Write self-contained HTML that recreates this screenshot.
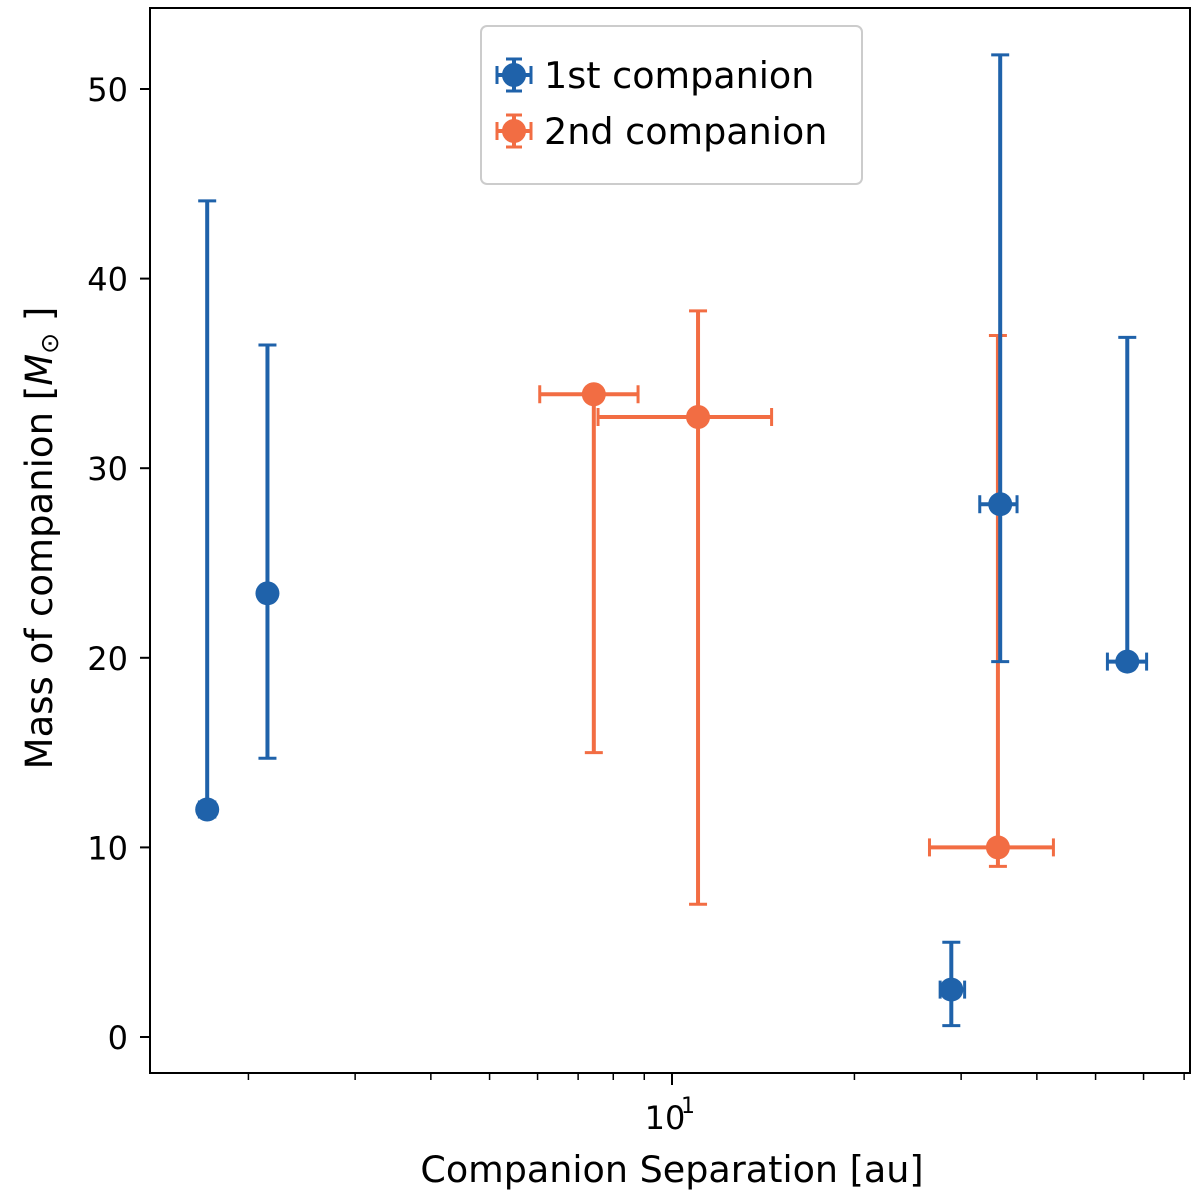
<!DOCTYPE html>
<html><head><meta charset="utf-8"><style>
body{margin:0;background:#fff}
svg text{font-family:"DejaVu Sans","Liberation Sans",sans-serif;fill:#000}
</style></head><body>
<svg id="chart" width="1200" height="1197" viewBox="0 0 1200 1197" xmlns="http://www.w3.org/2000/svg"></svg>
<script>
const blueX=[1.71,2.15,28.9,34.8,56.4];
const blueY=[12.0,23.4,2.5,28.1,19.8];
const blueYLo=[11.9,14.7,0.6,19.8,19.8];
const blueYHi=[44.1,36.5,5.0,51.8,36.9];
const blueXLo=[1.66,2.15,27.7,32.2,52.3];
const blueXHi=[1.76,2.15,30.4,37.1,60.7];
const orangeX=[7.43,11.04,34.5];
const orangeY=[33.9,32.7,10.0];
const orangeYLo=[15.0,7.0,9.0];
const orangeYHi=[33.9,38.3,37.0];
const orangeXLo=[6.05,7.55,26.6];
const orangeXHi=[8.79,14.6,42.6];
const yTicks=[0,10,20,30,40,50];
const xMinor=[2,3,4,5,6,7,8,9,20,30,40,50,60,70];

const L=150,R=1190,T=8,B=1073;
const xs=v=>672+606*(Math.log10(v)-1);
const ys=v=>1037-v*18.96;
const svg=document.getElementById('chart');
const NS='http://www.w3.org/2000/svg';
function mk(tag,attrs,parent){const e=document.createElementNS(NS,tag);for(const k in attrs)e.setAttribute(k,attrs[k]);(parent||svg).appendChild(e);return e;}

yTicks.forEach(v=>{
  const g=mk('g',{});
  
  
  mk('line',{x1:L-10,x2:L,y1:ys(v),y2:ys(v),stroke:'#000','stroke-width':2},g);
  const t=mk('text',{x:L-22,y:ys(v)+12,'font-size':32,'text-anchor':'end'},g);t.textContent=v;
});
xMinor.forEach(v=>{
  const l=mk('line',{x1:xs(v),x2:xs(v),y1:B,y2:B+7,stroke:'#000','stroke-width':1.5});
  
  
});
const mj=mk('g',{});


mk('line',{x1:xs(10),x2:xs(10),y1:B,y2:B+12,stroke:'#000','stroke-width':2},mj);
const t10=mk('text',{x:xs(10)-7,y:B+56,'font-size':32,'text-anchor':'middle'},mj);t10.textContent='10';
const sup=mk('text',{x:xs(10)+16,y:B+40,'font-size':22,'text-anchor':'middle'},mj);sup.textContent='1';

function series(X,Y,YL,YH,XL,XH,col,name){
  const g=mk('g',{});
  
  
  for(let i=0;i<X.length;i++){
    const x=xs(X[i]),y=ys(Y[i]),c=9;
    mk('line',{x1:x,x2:x,y1:ys(YL[i]),y2:ys(YH[i]),stroke:col,'stroke-width':4},g);
    mk('line',{x1:x-c,x2:x+c,y1:ys(YL[i]),y2:ys(YL[i]),stroke:col,'stroke-width':3},g);
    mk('line',{x1:x-c,x2:x+c,y1:ys(YH[i]),y2:ys(YH[i]),stroke:col,'stroke-width':3},g);
    if(XH[i]>XL[i]){
      mk('line',{x1:xs(XL[i]),x2:xs(XH[i]),y1:y,y2:y,stroke:col,'stroke-width':4},g);
      mk('line',{x1:xs(XL[i]),x2:xs(XL[i]),y1:y-c,y2:y+c,stroke:col,'stroke-width':3},g);
      mk('line',{x1:xs(XH[i]),x2:xs(XH[i]),y1:y-c,y2:y+c,stroke:col,'stroke-width':3},g);
    }
    const p=mk('circle',{cx:x,cy:y,r:12,fill:col},g);
    
    
  }
}
series(orangeX,orangeY,orangeYLo,orangeYHi,orangeXLo,orangeXHi,'#f26d43','series-2nd-companion');
series(blueX,blueY,blueYLo,blueYHi,blueXLo,blueXHi,'#1f62aa','series-1st-companion');

const fr=mk('rect',{x:L,y:T,width:R-L,height:B-T,fill:'none',stroke:'#000','stroke-width':2});



const xl=mk('text',{x:672,y:1182,'font-size':36.5,'text-anchor':'middle'});
xl.textContent='Companion Separation [au]';


const yl=mk('text',{x:0,y:0,'font-size':37,'text-anchor':'middle',transform:'translate(52,538) rotate(-90)'});
yl.innerHTML='Mass of companion [<tspan font-style="italic">M</tspan><tspan font-size="25" dy="6">⊙</tspan><tspan dy="-6"> ]</tspan>';



const lg=mk('g',{});


mk('rect',{x:481,y:26,width:381,height:158,rx:6,fill:'#fff',stroke:'#ccc','stroke-width':2},lg);
[['1st companion','#1f62aa',75],['2nd companion','#f26d43',131]].forEach(([lab,col,y])=>{
  const e=mk('g',{},lg);
  
  
  mk('line',{x1:497,x2:531,y1:y,y2:y,stroke:col,'stroke-width':4},e);
  mk('line',{x1:514,x2:514,y1:y-16,y2:y+16,stroke:col,'stroke-width':4},e);
  mk('line',{x1:506,x2:522,y1:y-16,y2:y-16,stroke:col,'stroke-width':3},e);
  mk('line',{x1:506,x2:522,y1:y+16,y2:y+16,stroke:col,'stroke-width':3},e);
  mk('line',{x1:497,x2:497,y1:y-9,y2:y+9,stroke:col,'stroke-width':3},e);
  mk('line',{x1:531,x2:531,y1:y-9,y2:y+9,stroke:col,'stroke-width':3},e);
  mk('circle',{cx:514,cy:y,r:12,fill:col},e);
  const t=mk('text',{x:544,y:y+13,'font-size':36.5},e);t.textContent=lab;
});
</script>
</body></html>
